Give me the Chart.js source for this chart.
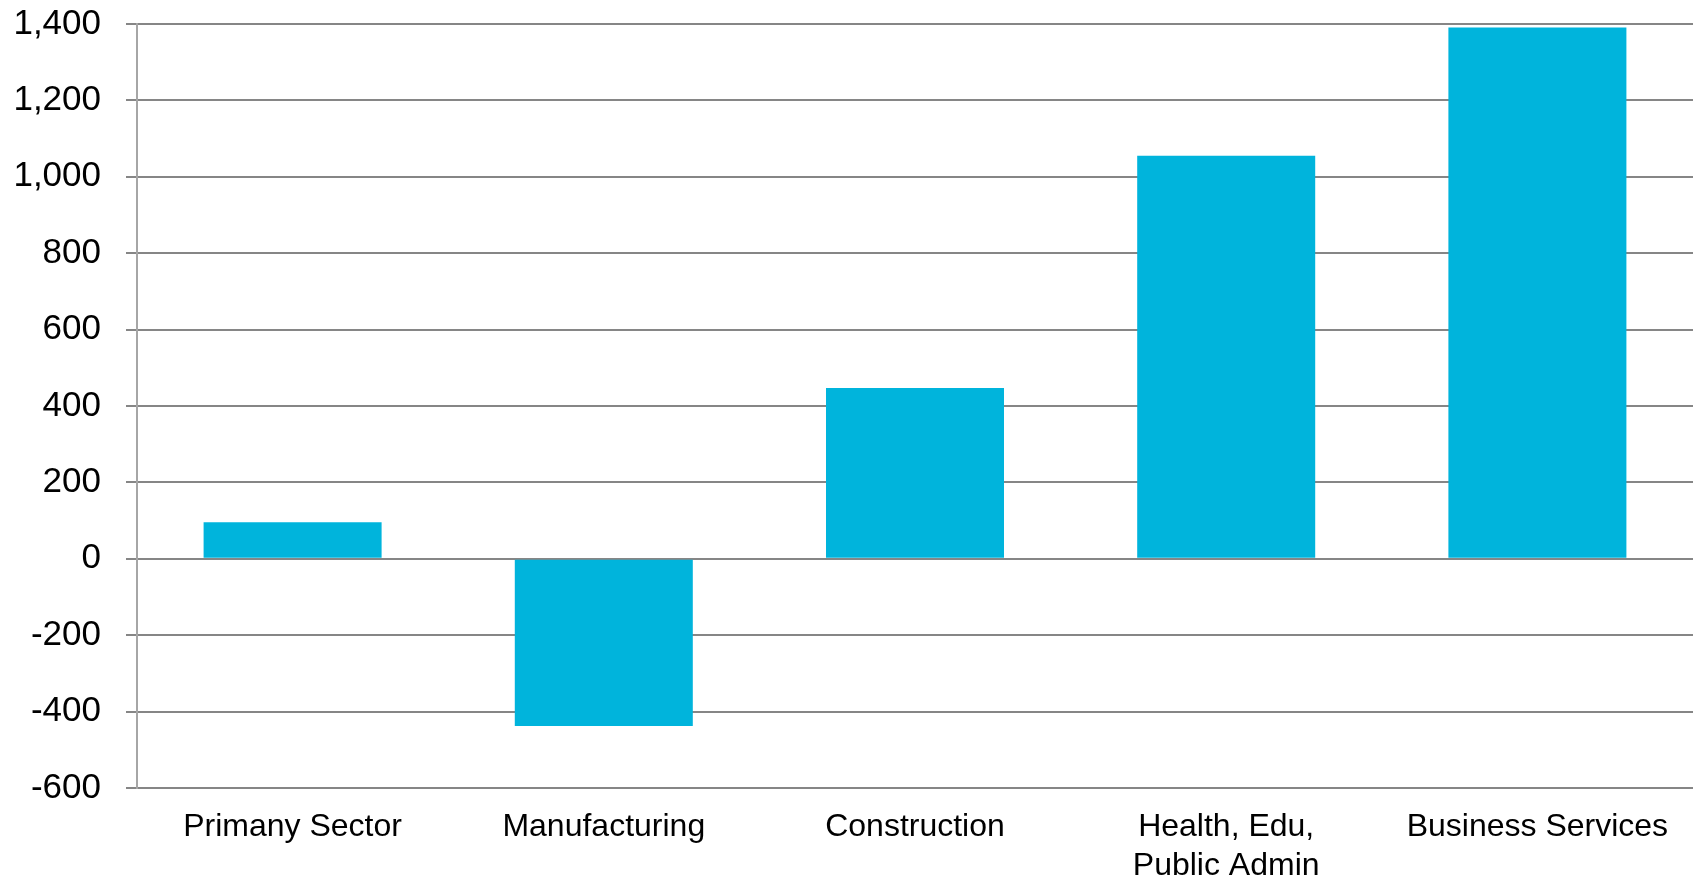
<!DOCTYPE html>
<html>
<head>
<meta charset="utf-8">
<script src="https://cdn.jsdelivr.net/npm/chart.js@4/dist/chart.umd.min.js"></script>
<style>
  html, body { margin: 0; padding: 0; background: #fff; }
  #wrap { width: 1708px; height: 884px; }
</style>
</head>
<body>
<div id="wrap"><canvas id="sectorChart" width="1708" height="884"></canvas></div>
<script>
var categories = ["Primany Sector", "Manufacturing", "Construction", ["Health, Edu,", "Public Admin"], "Business Services"];
var values = [96, -438, 447, 1055, 1391];
var yMin = -600, yMax = 1400, yStep = 200;

Chart.defaults.font.family = "'Liberation Sans', Arial, sans-serif";
Chart.defaults.color = "#000";

new Chart(document.getElementById("sectorChart"), {
  type: 'bar',
  data: {
    labels: categories,
    datasets: [{
      label: "Change",
      data: values,
      backgroundColor: "#00b4dc",
      borderWidth: 0,
      categoryPercentage: 1,
      barPercentage: 0.572
    }]
  },
  options: {
    responsive: false,
    animation: false,
    layout: { padding: { top: 24, right: 15, left: 0, bottom: 0 } },
    plugins: { legend: { display: false }, tooltip: { enabled: false } },
    scales: {
      x: {
        grid: { display: false },
        border: { display: false },
        ticks: { font: { size: 32, lineHeight: 1.22 }, padding: 12, maxRotation: 0, autoSkip: false },
        afterFit: function(scale) { scale.height = 96; scale.paddingLeft = 0; scale.paddingRight = 0; }
      },
      y: {
        min: yMin,
        max: yMax,
        ticks: { stepSize: yStep, font: { size: 35 }, padding: 25 },
        grid: { color: "#868686", lineWidth: 2, tickLength: 11 },
        border: { display: true, color: "#a6a6a6", width: 2 },
        afterFit: function(scale) { scale.width = 137; scale.paddingTop = 0; scale.paddingBottom = 0; }
      }
    }
  }
});
</script>
</body>
</html>
